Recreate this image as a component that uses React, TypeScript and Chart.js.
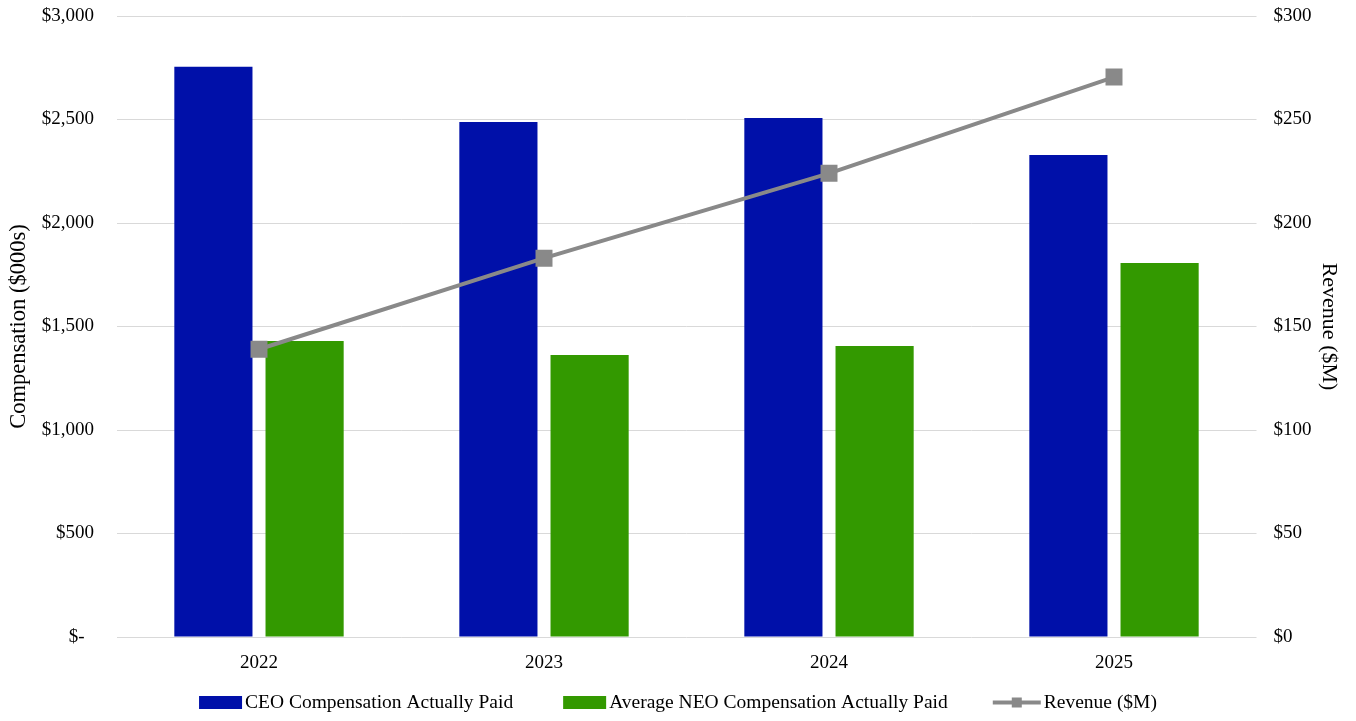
import React, { useEffect, useRef } from "react";
import { Chart, registerables } from "chart.js";

Chart.register(...registerables);

const years = ["2022", "2023", "2024", "2025"];
const ceoComp = [2755, 2488, 2507, 2329];
const neoComp = [1430, 1362, 1406, 1807];
const revenue = [139, 183, 224, 270.5];
const leftTicks = [0, 500, 1000, 1500, 2000, 2500, 3000];
const rightTicks = [0, 50, 100, 150, 200, 250, 300];
const legendLabels = [
  "CEO Compensation Actually Paid",
  "Average NEO Compensation Actually Paid",
  "Revenue ($M)",
];

const FONT = "'Times New Roman', 'Liberation Serif', serif";
const BLUE = "#0010a9";
const GREEN = "#339900";
const GRAY = "#898989";

const legendPlugin = {
  id: "customLegend",
  afterDraw(chart: any) {
    const ctx = chart.ctx as CanvasRenderingContext2D;
    ctx.save();
    ctx.font = `19.5px ${FONT}`;
    ctx.textBaseline = "middle";
    ctx.fillStyle = "#000";
    const cy = 702.5;
    const markW = [43, 43, 48];
    const gapText = 3;
    const gapsAfter = [50, 45, 0];
    const widths = legendLabels.map(
      (t, i) => markW[i] + gapText + ctx.measureText(t).width
    );
    const total = widths.reduce((a, b) => a + b, 0) + gapsAfter[0] + gapsAfter[1];
    let x = chart.width / 2 - total / 2;
    legendLabels.forEach((t, i) => {
      if (i < 2) {
        ctx.fillStyle = i === 0 ? BLUE : GREEN;
        ctx.fillRect(x, cy - 6.5, 43, 13);
      } else {
        ctx.fillStyle = GRAY;
        ctx.fillRect(x, cy - 2, 48, 4);
        ctx.fillRect(x + 19, cy - 5, 10, 10);
      }
      ctx.fillStyle = "#000";
      ctx.textAlign = "left";
      ctx.fillText(t, x + markW[i] + gapText, cy);
      x += widths[i] + gapsAfter[i];
    });
    ctx.restore();
  },
};

export default function App() {
  const ref = useRef<HTMLCanvasElement>(null);
  useEffect(() => {
    document.body.style.margin = "0";
    const chart = new Chart(ref.current!, {
      type: "bar",
      data: {
        labels: years,
        datasets: [
          {
            type: "bar",
            label: legendLabels[0],
            data: ceoComp,
            backgroundColor: BLUE,
            yAxisID: "y",
            categoryPercentage: 0.64,
            barPercentage: 0.857,
            order: 2,
          },
          {
            type: "bar",
            label: legendLabels[1],
            data: neoComp,
            backgroundColor: GREEN,
            yAxisID: "y",
            categoryPercentage: 0.64,
            barPercentage: 0.857,
            order: 2,
          },
          {
            type: "line",
            label: legendLabels[2],
            data: revenue,
            borderColor: GRAY,
            backgroundColor: GRAY,
            borderWidth: 4,
            pointStyle: "rect",
            pointRadius: 12,
            pointBorderWidth: 0,
            pointBackgroundColor: GRAY,
            yAxisID: "y1",
            order: 1,
          } as any,
        ],
      },
      plugins: [legendPlugin],
      options: {
        responsive: false,
        animation: false,
        layout: { padding: { left: 0, right: 0, top: 16, bottom: 0 } },
        plugins: {
          tooltip: { enabled: false },
          legend: { display: false },
        },
        scales: {
          x: {
            grid: { display: false },
            border: { display: false },
            ticks: { font: { family: FONT, size: 19 }, color: "#000", padding: 7 },
            afterFit: (axis: any) => {
              axis.height = 84;
              axis.paddingLeft = 0;
              axis.paddingRight = 0;
            },
          },
          y: {
            position: "left",
            min: 0,
            max: 3000,
            afterBuildTicks: (axis: any) => {
              axis.ticks = leftTicks.map((v) => ({ value: v }));
            },
            afterFit: (axis: any) => {
              axis.width = 116.5;
              axis.paddingTop = 0;
              axis.paddingBottom = 0;
            },
            grid: { color: "#d9d9d9", lineWidth: 1, drawTicks: false },
            border: { display: false },
            ticks: {
              font: { family: FONT, size: 19 },
              color: "#000",
              padding: 22.5,
              callback: (v: any) =>
                Number(v) === 0 ? "$-  " : "$" + Number(v).toLocaleString("en-US"),
            },
            title: {
              display: true,
              text: "Compensation ($000s)",
              font: { family: FONT, size: 22.5 },
              color: "#000",
              padding: { top: 5.5, bottom: 4 },
            },
          },
          y1: {
            position: "right",
            min: 0,
            max: 300,
            afterBuildTicks: (axis: any) => {
              axis.ticks = rightTicks.map((v) => ({ value: v }));
            },
            afterFit: (axis: any) => {
              axis.width = 99.5;
              axis.paddingTop = 0;
              axis.paddingBottom = 0;
            },
            grid: { display: false, drawTicks: false },
            border: { display: false },
            ticks: {
              font: { family: FONT, size: 19 },
              color: "#000",
              padding: 17,
              callback: (v: any) => "$" + Number(v),
            },
            title: {
              display: true,
              text: "Revenue ($M)",
              font: { family: FONT, size: 22 },
              color: "#000",
              padding: { top: 13.8, bottom: 4 },
            },
          },
        },
      } as any,
    });
    return () => chart.destroy();
  }, []);
  return (
    <div style={{ position: "absolute", left: 0, top: 0, width: 1356, height: 721 }}>
      <canvas ref={ref} width={1356} height={721} style={{ display: "block" }} />
    </div>
  );
}
